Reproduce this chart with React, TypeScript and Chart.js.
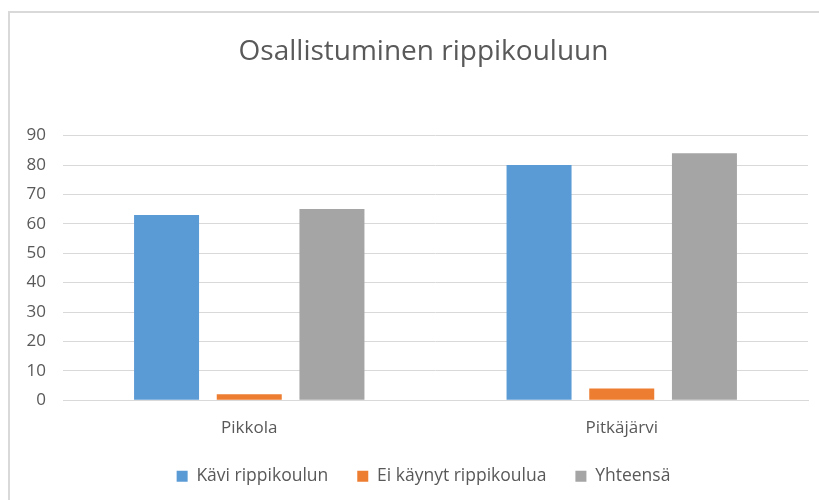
import React, { useEffect, useRef } from "react";
import { Chart, registerables } from "chart.js";

Chart.register(...registerables);

const categories = ["Pikkola", "Pitkäjärvi"];
const kaviValues = [63, 80];
const eiKaynytValues = [2, 4];
const yhteensaValues = [65, 84];
const seriesLabels = ["Kävi rippikoulun", "Ei käynyt rippikoulua", "Yhteensä"];
const titleText = "Osallistuminen rippikouluun";

const FONT = "'Open Sans', 'Noto Sans', sans-serif";
const TEXT = "#595959";
const GRID = "#D9D9D9";

export default function App() {
  const ref = useRef<HTMLCanvasElement | null>(null);

  useEffect(() => {
    if (!ref.current) return;
    const chart = new Chart(ref.current, {
      type: "bar",
      data: {
        labels: categories,
        datasets: [
          { label: seriesLabels[0], data: kaviValues, backgroundColor: "#5B9BD5" },
          { label: seriesLabels[1], data: eiKaynytValues, backgroundColor: "#ED7D31" },
          { label: seriesLabels[2], data: yhteensaValues, backgroundColor: "#A5A5A5" },
        ],
      },
      options: {
        animation: false,
        responsive: false,
        maintainAspectRatio: false,
        layout: { padding: { left: 24, right: 0, top: 0, bottom: 5 } },
        datasets: {
          bar: { categoryPercentage: 0.666, barPercentage: 0.786 },
        },
        plugins: {
          title: {
            display: true,
            text: titleText,
            color: TEXT,
            font: { family: FONT, size: 28, weight: "normal" },
            padding: { top: 35, bottom: 67 },
          },
          legend: {
            position: "bottom",
            labels: {
              color: TEXT,
              font: { family: FONT, size: 17.5 },
              boxWidth: 11,
              boxHeight: 11,
              padding: 29,
            },
          },
          tooltip: { enabled: false },
        },
        scales: {
          x: {
            grid: { display: false, drawTicks: false },
            border: { color: GRID },
            ticks: { color: TEXT, font: { family: FONT, size: 17 }, padding: 18 },
            afterFit: (scale: any) => {
              scale.height = 38.3;
            },
          },
          y: {
            min: 0,
            max: 90,
            ticks: { stepSize: 10, color: TEXT, font: { family: FONT, size: 17 }, padding: 17 },
            grid: { color: GRID, drawTicks: false },
            border: { display: false },
            afterFit: (scale: any) => {
              scale.width = 39;
            },
          },
          spacer: {
            type: "linear",
            position: "right",
            display: true,
            grid: { display: false, drawTicks: false },
            border: { display: false },
            ticks: { display: false },
            afterFit: (scale: any) => {
              scale.width = 15;
            },
          },
        },
      },
    });
    return () => chart.destroy();
  }, []);

  return (
    <div style={{ position: "fixed", left: 0, top: 0, width: 819, height: 500, background: "#fff", overflow: "hidden" }}>
      <div
        style={{
          position: "absolute",
          left: 8,
          top: 11,
          width: 840,
          height: 540,
          border: "2px solid #D9D9D9",
          boxSizing: "border-box",
        }}
      />
      <canvas ref={ref} width={823} height={500} style={{ position: "absolute", left: 0, top: 0 }} />
    </div>
  );
}
